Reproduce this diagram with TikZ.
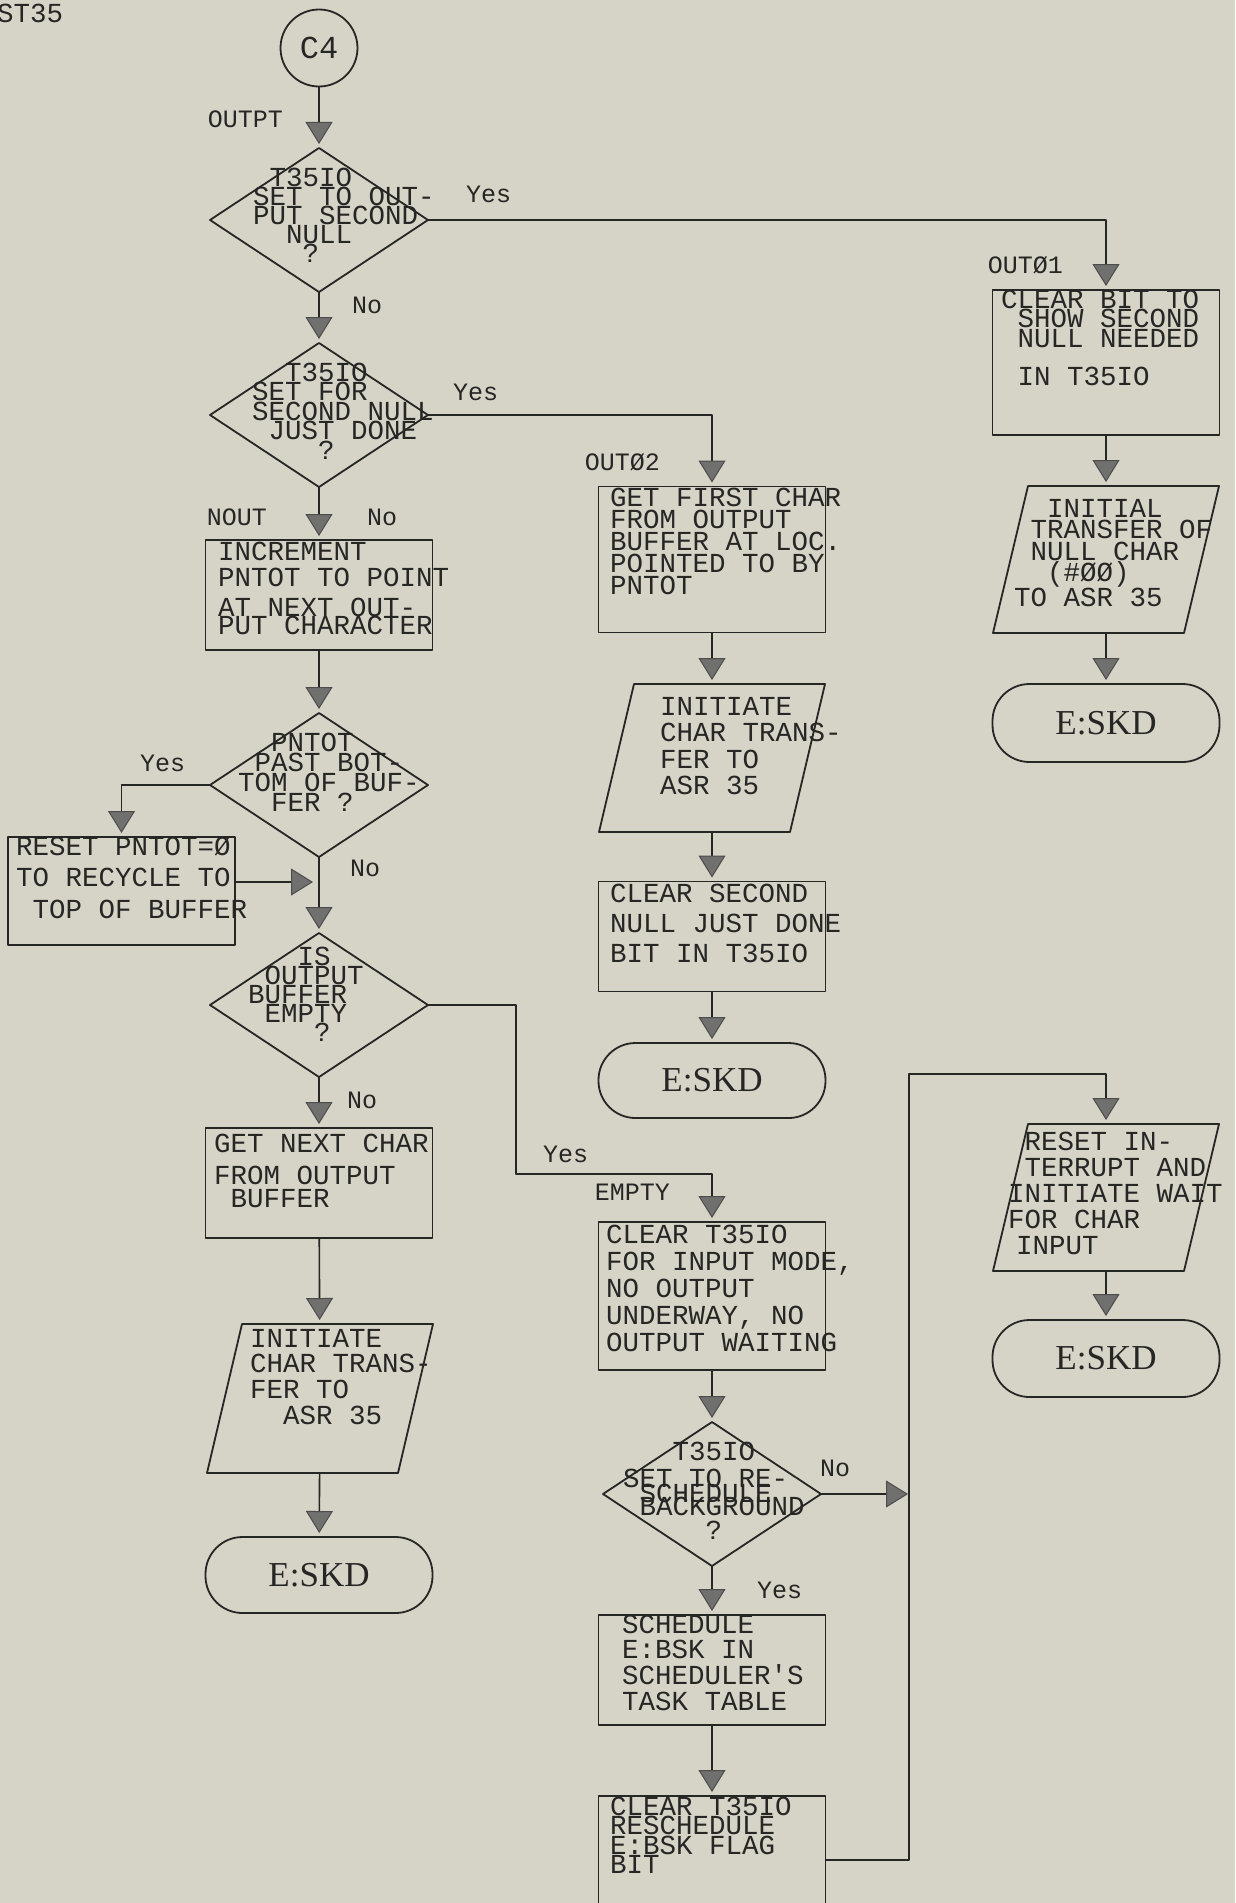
\documentclass[tikz,border=0pt]{standalone}
\usepackage{fontspec}
\usepackage{tikz}
\usetikzlibrary{positioning,arrows.meta,shapes.geometric,calc}
\newfontfamily\twfont{Liberation Mono}
\newfontfamily\serfont{Liberation Serif}
\definecolor{paper}{RGB}{214,211,199}
\definecolor{ink}{RGB}{38,38,36}
\definecolor{stamp}{RGB}{112,112,110}
% text block: left edge from centre, raise of first baseline, lines
\newcommand{\tx}[3]{\makebox[0pt][l]{\hspace*{#1pt}\raisebox{#2pt}[0pt][0pt]{\parbox[t]{320pt}{\raggedright #3}}}}

\begin{document}
\begin{tikzpicture}[x=1pt, y=-1pt, line join=round,
    every node/.style={text=ink},
    shp/.style={draw=ink, line width=1.8pt, inner sep=0pt, outer sep=0pt},
    proc/.style={shp, rectangle, minimum width=227pt, minimum height=#1},
    dec/.style={shp, diamond, minimum width=218pt, minimum height=144pt},
    term/.style={shp, rectangle, rounded corners=37pt, minimum width=227pt,
      minimum height=#1, font=\serfont\fontsize{35}{40}\selectfont},
    io/.style={shp, draw=none, rectangle, minimum width=226pt, minimum height=#1,
      append after command={\pgfextra{\draw[ink, line width=1.8pt]
        ([xshift=35pt]\tikzlastnode.north west) -- (\tikzlastnode.north east)
        -- ([xshift=-35pt]\tikzlastnode.south east) -- (\tikzlastnode.south west) -- cycle;}}},
    typed/.style={font=\twfont\fontsize{27.5}{#1}\selectfont},
    lbl/.style={inner sep=0pt, font=\twfont\fontsize{25}{30}\selectfont},
    flow/.style={ink, line width=1.6pt, shorten >=4pt,
      -{Triangle[width=27pt, length=22pt, line width=1pt, fill=stamp, color=black!70]}}]
  \path[use as bounding box, fill=paper] (0,0) rectangle (1235,1903);
  \node[lbl, typed=30, anchor=base west] (st35) at (-3,23) {ST35};

  \node[shp, circle, minimum size=77pt, font=\twfont\fontsize{32}{36}\selectfont] (c4) at (319,48) {C4};
  \node[dec, typed=19] (d1) at (319,220) {\tx{-66}{34}{~T35IO\\SET TO OUT-\\PUT SECOND\\~~NULL\\~~~?}};
  \node[dec, typed=19.5] (d2) at (319,415) {\tx{-67}{34}{~~T35IO\\SET FOR\\SECOND NULL\\~JUST DONE\\~~~~?}};
  \node[proc=110, typed=26] (inc) at (319,595) {\tx{-101}{35}{INCREMENT\\PNTOT TO POINT\\[4pt]AT NEXT OUT-\\[-8pt]PUT CHARACTER}};
  \node[dec, typed=20] (d3) at (319,785) {\tx{-81}{34}{~~PNTOT\\~PAST BOT-\\TOM OF BUF-\\~~FER ?}};
  \node[proc=108, typed=31.5] (reset) at (121.5,891) {\tx{-105.5}{36}{RESET PNTOT=Ø\\TO RECYCLE TO\\~TOP OF BUFFER}};
  \node[dec, typed=19] (d4) at (319,1005) {\tx{-71}{40}{~~~IS\\~OUTPUT\\BUFFER\\~EMPTY\\~~~~?}};
  \node[proc=110, typed=27] (getnext) at (319,1183) {\tx{-105}{31}{GET NEXT CHAR\\[5pt]FROM OUTPUT\\[-4pt]~BUFFER}};
  \node[io=149, typed=25.7] (initl) at (320,1398.5) {\tx{-70}{51.5}{INITIATE\\CHAR TRANS-\\FER TO\\~~ASR 35}};
  \node[term=76] (skdl) at (319,1575) {E:SKD};

  \node[proc=146, typed=22] (getfirst) at (712,559.5) {\tx{-102}{53.5}{GET FIRST CHAR\\FROM OUTPUT\\BUFFER AT LOC.\\POINTED TO BY\\PNTOT}};
  \node[io=148, typed=26.5] (initm) at (712,758) {\tx{-52}{43}{INITIATE\\CHAR TRANS-\\FER TO\\ASR 35}};
  \node[proc=110, typed=30] (clrsec) at (712,936.5) {\tx{-102}{34.5}{CLEAR SECOND\\NULL JUST DONE\\BIT IN T35IO}};
  \node[term=75] (skdm) at (712,1080.5) {E:SKD};
  \node[proc=148, typed=27] (clrio) at (712,1296) {\tx{-106}{53}{CLEAR T35IO\\FOR INPUT MODE,\\NO OUTPUT\\UNDERWAY, NO\\OUTPUT WAITING}};
  \node[dec, typed=19.5] (d5) at (712,1494) {\tx{-89}{34}{~~~T35IO\\[8pt]SET TO RE-\\[-5pt]~SCHEDULE\\[-6pt]~BACKGROUND\\[4pt]~~~~~?}};
  \node[proc=110, typed=25.7] (sched) at (712,1670) {\tx{-90}{37}{SCHEDULE\\E:BSK IN\\SCHEDULER'S\\TASK TABLE}};
  \node[proc=128, typed=19.5] (resched) at (712,1860) {\tx{-102}{45}{CLEAR T35IO\\RESCHEDULE\\E:BSK FLAG\\BIT}};

  \node[proc=145, typed=17] (clearbit) at (1106,362.5) {\tx{-105}{54.5}{CLEAR BIT TO\\~SHOW SECOND\\~NULL NEEDED\\[19pt]~IN T35IO}};
  \node[io=147, typed=21.5] (initr) at (1106,559.5) {\tx{-92}{42.5}{~~INITIAL\\~TRANSFER OF\\~NULL CHAR\\~~(\#ØØ)\\TO ASR 35}};
  \node[term=78] (skdr) at (1106,723) {E:SKD};
  \node[io=147, typed=26] (resetin) at (1106,1197.5) {\tx{-98}{47.5}{~RESET IN-\\~TERRUPT AND\\INITIATE WAIT\\FOR CHAR\\\hspace*{8pt}INPUT}};
  \node[term=77] (skdb) at (1106,1358.5) {E:SKD};

  \node[lbl, anchor=east] (outpt) at (283,119) {OUTPT};
  \node[lbl, anchor=west] (yes1) at (466,194) {Yes};
  \node[lbl, anchor=west] (no1) at (352,305) {No};
  \node[lbl, anchor=west] (yes2) at (453,392) {Yes};
  \node[lbl, anchor=east] (out02) at (660,462) {OUTØ2};
  \node[lbl, anchor=east] (out01) at (1063,265) {OUTØ1};
  \node[lbl, anchor=east] (nout) at (267,517) {NOUT};
  \node[lbl, anchor=west] (no2) at (367,517) {No};
  \node[lbl, anchor=west] (yes3) at (140,763) {Yes};
  \node[lbl, anchor=west] (no3) at (350,868) {No};
  \node[lbl, anchor=west] (no4) at (347,1100) {No};
  \node[lbl, anchor=west] (yes4) at (543,1154) {Yes};
  \node[lbl, anchor=east] (empty) at (670,1192) {EMPTY};
  \node[lbl, anchor=west] (no5) at (820,1468) {No};
  \node[lbl, anchor=west] (yes5) at (757,1590) {Yes};

  \coordinate (mg) at (319,882);
  \coordinate (yy) at (516,1174);
  \coordinate (lp) at (909,1074);

  \draw[flow] (c4) -- (d1);
  \draw[flow] (d1) -- (d2);
  \draw[flow] (d1.east) -| (clearbit.north);
  \draw[flow] (d2) -- (inc);
  \draw[flow] (d2.east) -| (getfirst.north);
  \draw[flow] (inc) -- (d3);
  \draw[flow] (d3.west) -| (reset.north);
  \draw[flow] (d3) -- (d4);
  \draw[flow, shorten >=6pt] (reset.east |- mg) -- (mg);
  \draw[flow] (d4) -- (getnext);
  \draw[flow] (getnext) -- (initl);
  \draw[flow] (initl) -- (skdl);
  \draw[flow] (d4.east) -| (yy) -| (clrio.north);
  \draw[flow] (getfirst) -- (initm);
  \draw[flow] (initm) -- (clrsec);
  \draw[flow] (clrsec) -- (skdm);
  \draw[flow] (clrio) -- (d5);
  \draw[flow] (d5) -- (sched);
  \draw[flow] (sched) -- (resched);
  \draw[flow] (resched.east) -| (lp) -| (resetin.north);
  \draw[flow, shorten >=1pt] (d5.east) -- (d5.east -| lp);
  \draw[flow] (clearbit) -- (initr);
  \draw[flow] (initr) -- (skdr);
  \draw[flow] (resetin) -- (skdb);
\end{tikzpicture}
\end{document}
